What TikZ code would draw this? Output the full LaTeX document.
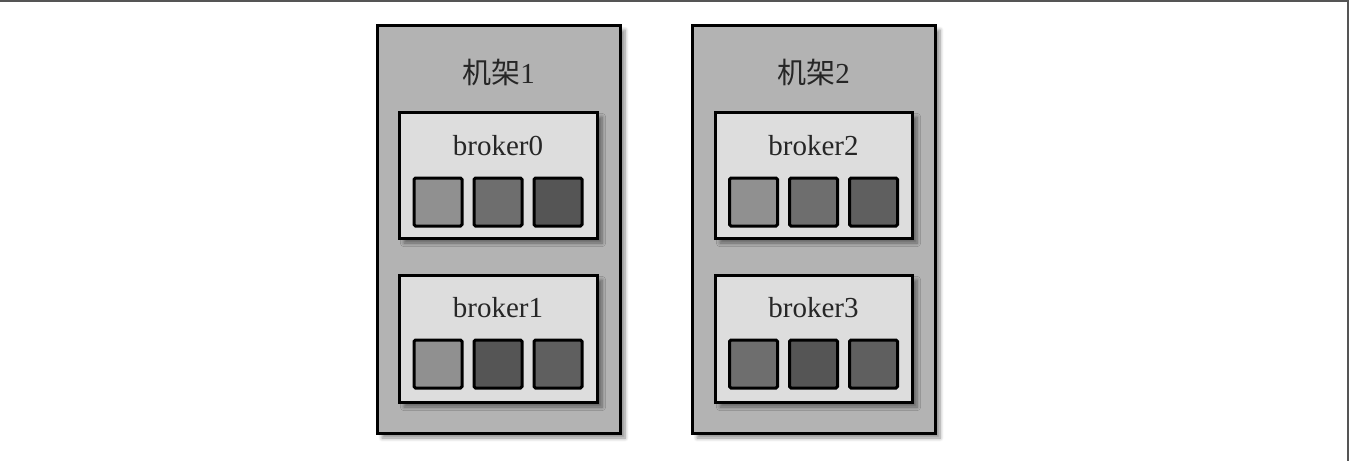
\documentclass[tikz,border=0pt]{standalone}
\usepackage{fontspec}
\setmainfont{Liberation Serif}
\newfontfamily\cjk{Noto Sans CJK SC}
\usetikzlibrary{shadows.blur}
\definecolor{rackfill}{HTML}{B3B3B3}
\definecolor{brokerfill}{HTML}{DDDDDD}
\definecolor{sqA}{HTML}{909090}
\definecolor{sqB}{HTML}{6E6E6E}
\definecolor{sqC}{HTML}{555555}
\definecolor{sqD}{HTML}{5F5F5F}
\definecolor{framecol}{HTML}{555555}
\tikzset{
  rackbox/.style={draw=black, line width=1.5pt, fill=rackfill,
    blur shadow={shadow xshift=2.5pt, shadow yshift=-2.5pt, shadow blur steps=6, shadow opacity=45}},
  brokerbox/.style={draw=black, line width=1.5pt, fill=brokerfill,
    blur shadow={shadow xshift=2.5pt, shadow yshift=-2.5pt, shadow blur steps=6, shadow opacity=45}},
  sqbox/.style={draw=black, line width=1.5pt, rounded corners=0.8pt, minimum width=24pt, minimum height=24pt, inner sep=0pt},
  lbl/.style={font=\fontsize{14.5pt}{17pt}\selectfont, text=black!85, inner sep=0pt},
}
\begin{document}
\begin{tikzpicture}[x=0.5pt,y=-0.5pt]
\useasboundingbox (0,0) rectangle (1360,461);
\draw[framecol, line width=1pt] (0,1) -- (1348,1) -- (1348,461);
% racks
\path[rackbox] (377,25) rectangle (620,433);
\path[rackbox] (692,25) rectangle (935,433);
\node[lbl] (r1) at (498.5,72) {{\cjk 机架}1};
\node[lbl] (r2) at (813.5,72) {{\cjk 机架}2};
% brokers
\path[brokerbox] (399,112) rectangle (597,238);
\path[brokerbox] (399,275) rectangle (597,402);
\path[brokerbox] (715,112) rectangle (912,238);
\path[brokerbox] (715,275) rectangle (912,402);
\node[lbl] (b0) at (498,146) {broker0};
\node[lbl] (b1) at (498,308) {broker1};
\node[lbl] (b2) at (813.5,146) {broker2};
\node[lbl] (b3) at (813.5,308) {broker3};
% squares broker0
\node[sqbox, fill=sqA] (s00) at (438,202) {};
\node[sqbox, fill=sqB] (s01) at (498,202) {};
\node[sqbox, fill=sqC] (s02) at (558,202) {};
% broker1
\node[sqbox, fill=sqA] (s10) at (438,364) {};
\node[sqbox, fill=sqC] (s11) at (498,364) {};
\node[sqbox, fill=sqD] (s12) at (558,364) {};
% broker2
\node[sqbox, fill=sqA] (s20) at (753.5,202) {};
\node[sqbox, fill=sqB] (s21) at (813.5,202) {};
\node[sqbox, fill=sqD] (s22) at (873.5,202) {};
% broker3
\node[sqbox, fill=sqB] (s30) at (753.5,364) {};
\node[sqbox, fill=sqC] (s31) at (813.5,364) {};
\node[sqbox, fill=sqD] (s32) at (873.5,364) {};
\end{tikzpicture}
\end{document}
